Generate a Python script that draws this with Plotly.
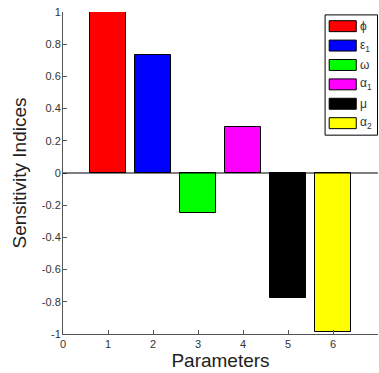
import plotly.graph_objects as go

params = [1, 2, 3, 4, 5, 6]
indices = [1.0, 0.733, -0.25, 0.286, -0.776, -0.99]
names = ["ϕ", "ε<sub>1</sub>", "ω", "α<sub>1</sub>", "μ", "α<sub>2</sub>"]
colors = ["#ff0000", "#0000ff", "#00ff00", "#ff00ff", "#000000", "#ffff00"]
xticks = [0, 1, 2, 3, 4, 5, 6, 7]
yticks = [-1, -0.8, -0.6, -0.4, -0.2, 0, 0.2, 0.4, 0.6, 0.8, 1]

fig = go.Figure()
for p, v, n, c in zip(params, indices, names, colors):
    fig.add_trace(go.Bar(x=[p], y=[v], name=n, width=0.8,
                         marker=dict(color=c, line=dict(color="black", width=1)),
                         showlegend=False))

# baseline
fig.add_shape(type="line", xref="x", yref="y", x0=0, x1=7, y0=0, y1=0,
              line=dict(color="black", width=1))

# custom legend (MATLAB-style)
L, R, T = 0.832, 0.9985, 0.991
row = 19.4 / 322
fig.add_shape(type="rect", xref="paper", yref="paper", x0=L, x1=R, y0=T - 6 * row - 0.012, y1=T,
              line=dict(color="black", width=1), fillcolor="white")
for i, (n, c) in enumerate(zip(names, colors)):
    yc = T - 0.035 - i * row
    fig.add_shape(type="rect", xref="paper", yref="paper", x0=L + 0.013, x1=L + 0.099,
                  y0=yc - 0.017, y1=yc + 0.017, line=dict(color="black", width=1), fillcolor=c)
    fig.add_annotation(xref="paper", yref="paper", x=L + 0.103, y=yc, text=n, showarrow=False,
                       xanchor="left", yanchor="middle",
                       font=dict(family="Arial, Liberation Sans", size=12, color="#333"))

font_tick = dict(family="Arial, Liberation Sans", size=11, color="#333")
axis_common = dict(showline=True, linecolor="#555", linewidth=1, ticks="inside", ticklen=4,
                   tickcolor="#555", showgrid=False, zeroline=False, tickfont=font_tick)
fig.update_xaxes(range=[0, 7], tickvals=xticks, title=dict(text="Parameters", standoff=0,
                 font=dict(family="Arial, Liberation Sans", size=19, color="#222")), **axis_common)
fig.update_yaxes(range=[-1, 1], tickvals=yticks, ticktext=[("%g" % t) for t in yticks],
                 ticklabelstandoff=-1,
                 title=dict(text="Sensitivity Indices", standoff=10,
                 font=dict(family="Arial, Liberation Sans", size=19, color="#222")), **axis_common)

fig.update_layout(width=379, height=373, margin=dict(l=63, r=1, t=12, b=39),
                  plot_bgcolor="white", paper_bgcolor="white", bargap=0)
fig.write_html("out.html")
